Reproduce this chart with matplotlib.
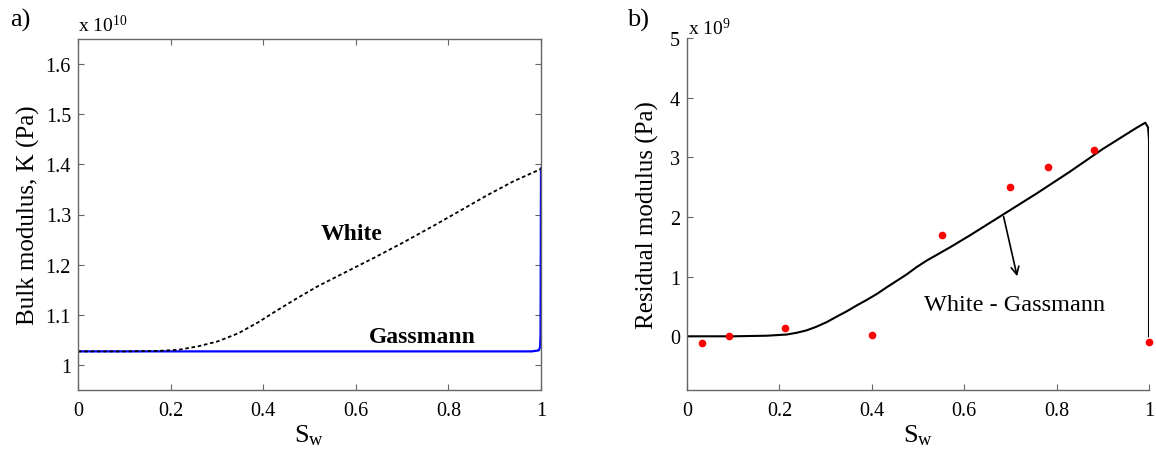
import matplotlib
matplotlib.use("Agg")
import matplotlib.pyplot as plt

# ---------------- data ----------------
# panel a) bulk modulus, units of 1e10 Pa
sw_white = [0, 0.1, 0.173, 0.216, 0.259, 0.302, 0.346, 0.389, 0.432, 0.475,
            0.518, 0.58, 0.638, 0.70, 0.767, 0.83, 0.883, 0.94, 0.998, 1.0]
k_white = [1.027, 1.027, 1.028, 1.030, 1.037, 1.047, 1.063, 1.085, 1.110, 1.134,
           1.157, 1.186, 1.213, 1.243, 1.277, 1.310, 1.338, 1.366, 1.390, 1.392]

sw_gass = [0, 0.98, 0.995, 0.998, 0.999, 1.0]
k_gass = [1.027, 1.027, 1.029, 1.035, 1.06, 1.392]

# panel b) residual modulus, units of 1e9 Pa
sw_res = [0, 0.1, 0.173, 0.216, 0.238, 0.259, 0.28, 0.303, 0.324, 0.346, 0.368,
          0.389, 0.411, 0.432, 0.454, 0.476, 0.497, 0.519, 0.569, 0.612, 0.684,
          0.756, 0.827, 0.900, 0.972, 0.992, 0.998, 1.0, 1.0]
res = [0, 0, 0.01, 0.03, 0.06, 0.10, 0.16, 0.24, 0.33, 0.42, 0.52,
       0.61, 0.71, 0.82, 0.93, 1.04, 1.16, 1.27, 1.49, 1.69, 2.04,
       2.39, 2.75, 3.14, 3.49, 3.58, 3.50, 3.30, 0.0]

sw_meas = [0.032, 0.0915, 0.212, 0.401, 0.551, 0.700, 0.781, 0.880, 1.0]
res_meas = [-0.12, 0.01, 0.14, 0.02, 1.70, 2.51, 2.83, 3.12, -0.10]

x_ticks = [0, 0.2, 0.4, 0.6, 0.8, 1]
x_labels = ["0", "0.2", "0.4", "0.6", "0.8", "1"]
ya_ticks = [1, 1.1, 1.2, 1.3, 1.4, 1.5, 1.6]
ya_labels = ["1", "1.1", "1.2", "1.3", "1.4", "1.5", "1.6"]
yb_ticks = [0, 1, 2, 3, 4, 5]
yb_labels = ["0", "1", "2", "3", "4", "5"]

# ---------------- style ----------------
plt.rcParams["font.family"] = ["Liberation Serif", "DejaVu Serif"]
plt.rcParams["mathtext.fontset"] = "custom"
plt.rcParams["mathtext.rm"] = "Liberation Serif"
plt.rcParams["mathtext.it"] = "Liberation Serif:italic"
SPINE = "#666666"

fig = plt.figure(figsize=(11.56, 4.52), dpi=100)
ax1 = fig.add_axes([78 / 1156, 1 - 391 / 452, 463 / 1156, 351 / 452])
ax2 = fig.add_axes([687 / 1156, 1 - 391 / 452, 462 / 1156, 352 / 452])

for ax in (ax1, ax2):
    for s in ax.spines.values():
        s.set_color(SPINE)
        s.set_linewidth(1.0)
    ax.tick_params(direction="in", length=4, width=0.8, color=SPINE,
                   labelsize=14.5, labelcolor="black")
    ax.tick_params(axis="x", pad=8)
    ax.tick_params(axis="y", pad=5)
    ax.set_xlim(0, 1)
    ax.set_xticks(x_ticks)
    ax.set_xticklabels(x_labels)
    ax.set_xlabel(r"$\mathrm{S}_\mathrm{w}$", fontsize=19, labelpad=2)

# ---- panel a ----
ax1.plot(sw_gass, k_gass, color="#0000ff", lw=1.6)
ax1.plot(sw_white, k_white, color="black", lw=1.3, ls=(0, (2, 1.5)))
ax1.set_ylim(0.95, 1.65)
ax1.set_yticks(ya_ticks)
ax1.set_yticklabels(ya_labels)
ax1.tick_params(top=True, right=True)
ax1.set_ylabel("Bulk modulus, K (Pa)", fontsize=18, labelpad=4)
ax1.text(0.0, 1.012, r"x 10$^{10}$", transform=ax1.transAxes, fontsize=14,
         ha="left", va="bottom")
ax1.text(0.591, 1.262, "White", fontsize=17, fontweight="bold",
         ha="center", va="center")
ax1.text(0.744, 1.056, "Gassmann", fontsize=17, fontweight="bold",
         ha="center", va="center")
fig.text(10 / 1156, 1 - 20 / 452, "a)", fontsize=19, ha="left", va="center")

# ---- panel b ----
ax2.plot(sw_res, res, color="black", lw=1.5)
ax2.plot(sw_meas, res_meas, "o", color="red", ms=4.5, mec="red", clip_on=False,
         zorder=5)
ax2.set_ylim(-0.9, 5)
ax2.set_yticks(yb_ticks)
ax2.set_yticklabels(yb_labels)
ax2.spines["top"].set_visible(False)
ax2.spines["right"].set_visible(False)
ax2.set_ylabel("Residual modulus (Pa)", fontsize=18, labelpad=8)
ax2.text(0.003, 1.0, r"x 10$^{9}$", transform=ax2.transAxes, fontsize=14,
         ha="left", va="bottom")
ax2.annotate("", xy=(0.716, 0.96), xytext=(0.684, 2.05),
             arrowprops=dict(arrowstyle="->", color="black", lw=1.2,
                             mutation_scale=14))
ax2.text(0.708, 0.54, "White - Gassmann", fontsize=17.5,
         ha="center", va="center")
fig.text(627 / 1156, 1 - 20 / 452, "b)", fontsize=19, ha="left", va="center")

fig.savefig("out.png", dpi=100)
